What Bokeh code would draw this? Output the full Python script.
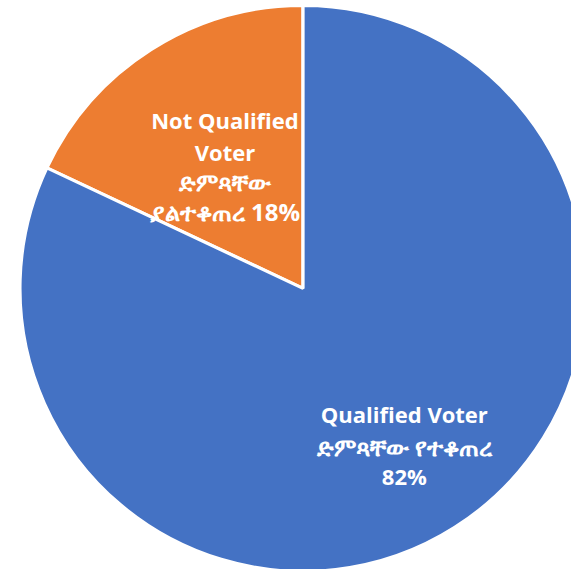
import numpy as np
from bokeh.plotting import figure
from bokeh.models import ColumnDataSource, Range1d
from bokeh.core.properties import value
from bokeh.embed import file_html
from bokeh.resources import INLINE

# ---- data ----
categories = ["Not Qualified Voter", "Qualified Voter"]
amharic = ["ድምጻቸው ያልተቆጠረ", "ድምጻቸው የተቆጠረ"]
percent = [18, 82]
colors = ["#ED7D31", "#4472C4"]
label_lines = [
    ["Not Qualified", "Voter", "ድምጻቸው", "ያልተቆጠረ 18%"],
    ["Qualified Voter", "ድምጻቸው የተቆጠረ", "82%"],
]

# ---- layout / style (reference-pixel data units) ----
W, H = 571, 569
XR, YR = 587, 585
cx, cy, R = 311, 289, 291
label_r = [149.8, 194.4]
line_offsets = [[46.6, 13.6, -16.4, -47.4], [35, 2, -29]]

frac = np.array(percent, dtype=float) / sum(percent)
ends = np.pi / 2 + np.cumsum(frac) * 2 * np.pi
starts = ends - frac * 2 * np.pi

p = figure(width=W, height=H, output_backend="svg", toolbar_location=None,
           x_range=Range1d(0, XR), y_range=Range1d(0, YR),
           x_axis_location=None, y_axis_location=None, min_border=0,
           outline_line_color=None, background_fill_color="white")
p.grid.visible = False

src = ColumnDataSource(dict(start=starts, end=ends, color=colors,
                            cat=categories))
p.wedge(x=cx, y=cy, radius=R, start_angle="start", end_angle="end",
        fill_color="color", line_color="white", line_width=3.2, source=src)


def is_ethiopic(s):
    return any(0x1200 <= ord(c) <= 0x139F for c in s)


tx, ty, tt, ts = [], [], [], []
for i, lines in enumerate(label_lines):
    mid = (starts[i] + ends[i]) / 2
    ax = cx + label_r[i] * np.cos(mid)
    ay = cy + label_r[i] * np.sin(mid)
    for j, s in enumerate(lines):
        tx.append(ax)
        ty.append(ay + line_offsets[i][j])
        tt.append(s)
        ts.append("24px" if is_ethiopic(s) else "22px")

tsrc = ColumnDataSource(dict(x=tx, y=ty, text=tt, size=ts))
p.text(x="x", y="y", text="text", text_font_size="size", source=tsrc,
       text_color="white", text_font=value("Open Sans"),
       text_font_style="bold", text_align="center",
       text_baseline="alphabetic")

open("out.html", "w").write(file_html(p, INLINE))
